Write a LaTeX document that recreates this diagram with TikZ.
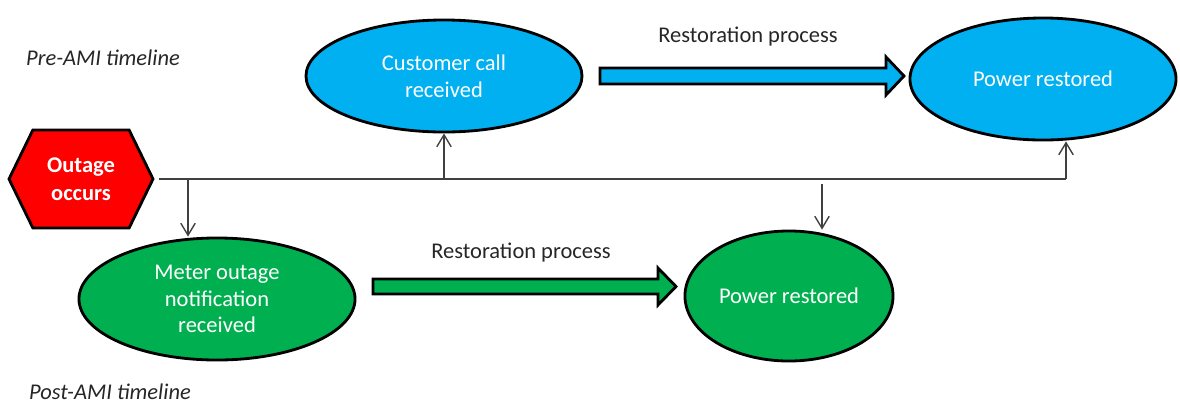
\documentclass[tikz,border=0pt]{standalone}
\usepackage{fontspec}
\setmainfont{Carlito}
\usepackage{xcolor}
\definecolor{amiblue}{RGB}{0,176,240}
\definecolor{amigreen}{RGB}{0,176,80}
\definecolor{linegrey}{RGB}{64,64,64}
\usetikzlibrary{arrows.meta,shapes.geometric,shapes.symbols,positioning,calc}

\tikzset{
  event/.style={ellipse, draw=black, line width=2pt, inner sep=0pt, text=white, align=center, font=\fontsize{16}{19}\selectfont},
  preami/.style={event, fill=amiblue},
  postami/.style={event, fill=amigreen},
  outagebox/.style={signal, signal to=west and east, signal pointer angle=128, draw=black, line width=2pt, fill=red, text=white, align=center, font=\fontsize{16}{20}\selectfont\bfseries, minimum width=3.6cm, minimum height=2.45cm, inner sep=0pt},
  link/.style={draw=linegrey, line width=1pt},
  flow/.style={draw=black, line width=2pt, line join=miter},
  caption/.style={font=\fontsize{16}{19}\selectfont, text=black!85},
  timeline/.style={font=\fontsize{16}{19}\selectfont\itshape, text=black!85},
}

\begin{document}
\begin{tikzpicture}[x=0.025cm, y=-0.025cm, >={Straight Barb[length=3mm,width=3.6mm]}]
    \useasboundingbox (0,0) rectangle (1180,404);                                                     % Rahmen
    \node[outagebox] (outage) at (81,179) {Outage\\occurs};                                           % Ausfall
    \node[preami, minimum width=6.9cm, minimum height=2.8cm] (call) at (444,76) {Customer call\\received};
    \node[preami, minimum width=6.65cm, minimum height=3.05cm] (restoredpre) at (1043,79) {Power restored};
    \node[postami, minimum width=6.9cm, minimum height=3.05cm] (meter) at (217,299) {Meter outage\\notification\\received};
    \node[postami, minimum width=5.2cm, minimum height=3.25cm] (restoredpost) at (789,296) {Power restored};
    \draw[flow, fill=amiblue] (600,68) -- (886,68) -- (886,57) -- (904,76) -- (886,95) -- (886,84) -- (600,84) -- cycle;            % Pfeil oben
    \draw[flow, fill=amigreen] (373,279) -- (658,279) -- (658,268) -- (676,286.5) -- (658,305) -- (658,294) -- (373,294) -- cycle;  % Pfeil unten
    \node[caption] (restpre) at (748,37) {Restoration process};                                      % Beschriftung oben
    \node[caption] (restpost) at (521,253) {Restoration process};                                    % Beschriftung unten
    \node[timeline] (pre) at (103,58) {Pre-AMI timeline};                                             % Zeitlinie vorher
    \node[timeline] (post) at (110,392) {Post-AMI timeline};                                          % Zeitlinie nachher
    \coordinate (tometer) at (188,179);
    \coordinate (tocall) at (444,179);
    \coordinate (topost) at (822,184);
    \coordinate (topre) at (1066,179);
    \draw[link] ([xshift=3pt]outage.east) -- (topre);                                                 % Verbindungslinie
    \draw[link,->] (topre) -- (topre |- restoredpre.south);                                           % zu Power restored oben
    \draw[link,->] (tometer) -- (tometer |- meter.north);                                             % zu Meter
    \draw[link,->] (tocall) -- (call.south);                                                          % zu Customer call
    \draw[link,->] (topost) -- (topost |- restoredpost.north);                                        % zu Power restored unten
\end{tikzpicture}
\end{document}
